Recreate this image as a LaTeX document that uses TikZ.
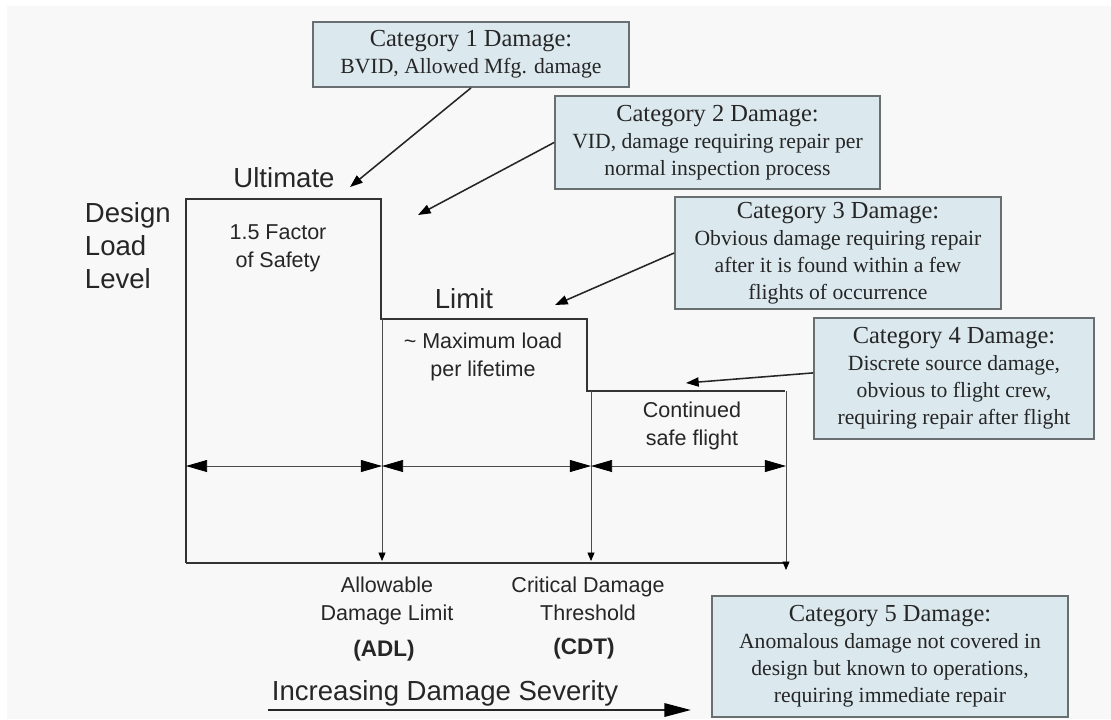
\documentclass[tikz,border=0pt]{standalone}
\usepackage{fontspec}
\setmainfont{Liberation Serif}
\setsansfont{Liberation Sans}
\usetikzlibrary{arrows.meta,positioning}
\definecolor{catfill}{RGB}{219,233,239}
\definecolor{catline}{RGB}{105,110,112}
\definecolor{paper}{RGB}{248,248,248}
\newcommand{\cathead}[1]{{\fontsize{17.4}{20}\selectfont #1}}

\begin{document}
\begin{tikzpicture}[x=0.025cm,y=-0.025cm,
  cat/.style={draw=catline,line width=1.1pt,fill=catfill,align=center,inner sep=0pt,
    font=\fontsize{15.4}{19.2}\selectfont,text=black!85},
  lbl/.style={font=\sffamily\fontsize{15.3}{19.8}\selectfont,align=center,text=black!85},
  big/.style={font=\sffamily\fontsize{19.6}{23.5}\selectfont,text=black!85},
  abbr/.style={font=\sffamily\bfseries\fontsize{16}{19}\selectfont,text=black!85},
  level/.style={line width=1.6pt,black!80},
  guide/.style={line width=0.6pt,black!70},
  dimline/.style={guide,{Triangle[length=15pt,width=8.5pt,color=black]}-{Triangle[length=15pt,width=8.5pt,color=black]}},
  drop/.style={guide,-{Triangle[length=6pt,width=5pt,color=black]}},
  callout/.style={line width=1.1pt,black!85,-{Triangle[length=9pt,width=6.5pt,color=black]}},
  sevarrow/.style={line width=1.6pt,black!85,-{Triangle[length=19pt,width=9.5pt,color=black]}}]
\useasboundingbox (0,0) rectangle (1111,719);
\fill[white] (0,0) rectangle (1111,719);
\fill[paper] (7,6) rectangle (1111,719);

\node[cat,minimum width=7.91cm,minimum height=1.63cm] (cat1) at (471,54.5)
  {\cathead{Category 1 Damage:}\\BVID, Allowed Mfg. damage};
\node[cat,minimum width=8.13cm,minimum height=2.33cm] (cat2) at (717.5,142.5)
  {\cathead{Category 2 Damage:}\\VID, damage requiring repair per\\normal inspection process};
\node[cat,minimum width=8.15cm,minimum height=2.8cm] (cat3) at (838,253)
  {\cathead{Category 3 Damage:}\\Obvious damage requiring repair\\after it is found within a few\\flights of occurrence};
\node[cat,minimum width=7.0cm,minimum height=3.03cm] (cat4) at (954,378.5)
  {\cathead{Category 4 Damage:}\\Discrete source damage,\\obvious to flight crew,\\requiring repair after flight};
\node[cat,minimum width=8.9cm,minimum height=3.03cm] (cat5) at (890,656.5)
  {\cathead{Category 5 Damage:}\\Anomalous damage not covered in\\design but known to operations,\\requiring immediate repair};

\node[big,align=left,anchor=west] (dll) at (80,246) {Design\\Load\\Level};
\node[big] (ultimate) at (284,178) {Ultimate};
\node[big] (limit) at (464,299) {Limit};
\node[lbl] (fos) at (278,248) {1.5 Factor\\of Safety};
\node[lbl] (maxload) at (483,357) {\textasciitilde{} Maximum load\\per lifetime};
\node[lbl] (csf) at (692,426) {Continued\\safe flight};
\node[lbl] (adlname) at (387,601) {Allowable\\Damage Limit};
\node[lbl] (cdtname) at (588,599) {Critical Damage\\Threshold};
\node[abbr] (adlabbr) at (384,651) {(ADL)};
\node[abbr] (cdtabbr) at (584,649) {(CDT)};
\node[big,anchor=west] (sev) at (267,693) {Increasing Damage Severity};

\coordinate (o) at (186,563);
\coordinate (adl) at (382,561);
\coordinate (cdt) at (591,561);
\coordinate (eol) at (786,570);
\coordinate (d0) at (186,466);
\coordinate (d1) at (382,466);
\coordinate (d2) at (591,466);
\coordinate (d3) at (786,466);
\coordinate (ultTip) at (350,187);
\coordinate (gapTip) at (418,215);
\coordinate (limTip) at (555,305);
\coordinate (csfTip) at (686,383);
\coordinate (sevA) at (268,710);
\coordinate (sevB) at (691,710);

\draw[level] (o) -- (186,199) -- (381,199) -- (381,319) -- (587,319) -- (587,391) -- (785,391);
\draw[level] (o) -- (786,563);
\draw[drop] (382,319) -- (adl);
\draw[drop] (591,391) -- (cdt);
\draw[drop] (786,391) -- (eol);
\draw[dimline] (d0) -- (d1);
\draw[dimline] (d1) -- (d2);
\draw[dimline] (d2) -- (d3);

\draw[callout] (cat1.south) -- (ultTip);
\draw[callout] (cat2.west) -- (gapTip);
\draw[callout] (cat3.west) -- (limTip);
\draw[callout] ([yshift=0.14cm]cat4.west) -- (csfTip);
\draw[sevarrow] (sevA) -- (sevB);
\end{tikzpicture}
\end{document}
